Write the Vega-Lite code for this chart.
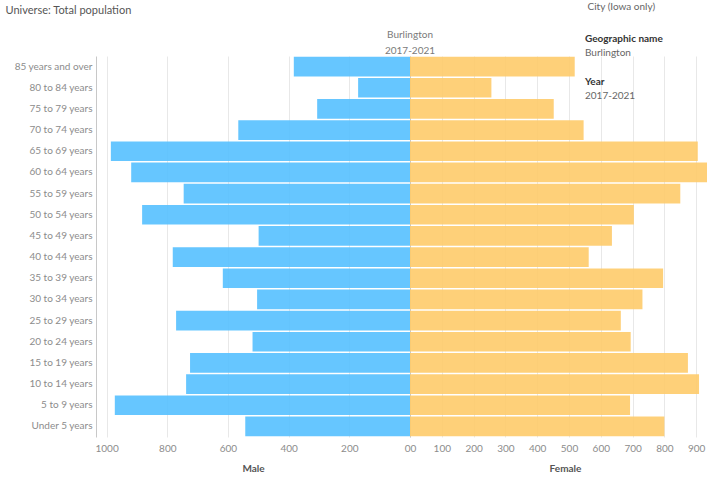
{
  "$schema": "https://vega.github.io/schema/vega-lite/v6.json",
  "padding": {"top": 1, "left": 5, "right": 0, "bottom": 0},
  "bounds": "flush",
  "spacing": 0,
  "config": {
    "font": "Lato",
    "view": {"stroke": null},
    "axis": {
      "labelFont": "Lato", "titleFont": "Lato", "labelFontSize": 10, "labelColor": "#8c8c8c",
      "gridColor": "#e8e8e8", "domainColor": "#c8c8c8", "ticks": false,
      "titleFontSize": 10, "titleColor": "#555555", "titleFontWeight": "bold"
    }
  },
  "datasets": {
    "pop": [
      {"age": "85 years and over", "sex": "Male", "value": 383},
      {"age": "80 to 84 years", "sex": "Male", "value": 171},
      {"age": "75 to 79 years", "sex": "Male", "value": 306},
      {"age": "70 to 74 years", "sex": "Male", "value": 566},
      {"age": "65 to 69 years", "sex": "Male", "value": 986},
      {"age": "60 to 64 years", "sex": "Male", "value": 919},
      {"age": "55 to 59 years", "sex": "Male", "value": 746},
      {"age": "50 to 54 years", "sex": "Male", "value": 883},
      {"age": "45 to 49 years", "sex": "Male", "value": 499},
      {"age": "40 to 44 years", "sex": "Male", "value": 782},
      {"age": "35 to 39 years", "sex": "Male", "value": 617},
      {"age": "30 to 34 years", "sex": "Male", "value": 504},
      {"age": "25 to 29 years", "sex": "Male", "value": 771},
      {"age": "20 to 24 years", "sex": "Male", "value": 519},
      {"age": "15 to 19 years", "sex": "Male", "value": 725},
      {"age": "10 to 14 years", "sex": "Male", "value": 738},
      {"age": "5 to 9 years", "sex": "Male", "value": 973},
      {"age": "Under 5 years", "sex": "Male", "value": 543},
      {"age": "85 years and over", "sex": "Female", "value": 518},
      {"age": "80 to 84 years", "sex": "Female", "value": 256},
      {"age": "75 to 79 years", "sex": "Female", "value": 452},
      {"age": "70 to 74 years", "sex": "Female", "value": 546},
      {"age": "65 to 69 years", "sex": "Female", "value": 905},
      {"age": "60 to 64 years", "sex": "Female", "value": 940},
      {"age": "55 to 59 years", "sex": "Female", "value": 850},
      {"age": "50 to 54 years", "sex": "Female", "value": 704},
      {"age": "45 to 49 years", "sex": "Female", "value": 635},
      {"age": "40 to 44 years", "sex": "Female", "value": 562},
      {"age": "35 to 39 years", "sex": "Female", "value": 796},
      {"age": "30 to 34 years", "sex": "Female", "value": 731},
      {"age": "25 to 29 years", "sex": "Female", "value": 663},
      {"age": "20 to 24 years", "sex": "Female", "value": 694},
      {"age": "15 to 19 years", "sex": "Female", "value": 874},
      {"age": "10 to 14 years", "sex": "Female", "value": 909},
      {"age": "5 to 9 years", "sex": "Female", "value": 692},
      {"age": "Under 5 years", "sex": "Female", "value": 800}
    ]
  },
  "hconcat": [
    {
      "width": 314,
      "height": 381,
      "data": {"name": "pop"},
      "transform": [{"filter": "datum.sex === 'Male'"}],
      "title": {
        "text": ["Burlington", "2017-2021"], "anchor": "end", "align": "center",
        "fontSize": 10, "fontWeight": "normal", "color": "#7a7a7a", "lineHeight": 16, "offset": -52
      },
      "mark": {"type": "bar", "color": "#55C0FF", "opacity": 0.9},
      "encoding": {
        "y": {
          "field": "age", "type": "nominal",
          "sort": ["85 years and over", "80 to 84 years", "75 to 79 years", "70 to 74 years", "65 to 69 years", "60 to 64 years", "55 to 59 years", "50 to 54 years", "45 to 49 years", "40 to 44 years", "35 to 39 years", "30 to 34 years", "25 to 29 years", "20 to 24 years", "15 to 19 years", "10 to 14 years", "5 to 9 years", "Under 5 years"],
          "scale": {"paddingInner": 0.07, "paddingOuter": 0.035},
          "axis": {
            "title": "Universe: Total population", "titleAngle": 0, "titleAlign": "left", "titleBaseline": "middle",
            "titleX": -91, "titleY": -46, "titleFontWeight": "normal", "titleColor": "#555555", "titleFontSize": 11,
            "labelPadding": 4, "labelColor": "#8c8c8c", "labelFontSize": 10, "domain": true, "grid": false
          }
        },
        "x": {
          "field": "value", "type": "quantitative",
          "scale": {"domain": [0, 1035], "reverse": true, "nice": false},
          "axis": {
            "values": [0, 200, 400, 600, 800, 1000], "format": "d", "title": "Male", "grid": true, "domain": false,
            "labelAlign": {"condition": {"test": "datum.value === 0", "value": "right"}, "value": "center"},
            "labelPadding": 6, "titlePadding": 10, "labelFlush": false
          }
        }
      }
    },
    {
      "width": 297,
      "height": 381,
      "data": {"name": "pop"},
      "transform": [{"filter": "datum.sex === 'Female'"}],
      "title": {
        "text": ["Geographic name", "Year"], "subtitle": ["Burlington", "2017-2021"],
        "anchor": "start", "dx": 175, "fontSize": 10, "fontWeight": "bold", "color": "#333333", "lineHeight": 43,
        "subtitleFontSize": 10, "subtitleColor": "#666666", "subtitleLineHeight": 43, "subtitlePadding": -39,
        "offset": -100
      },
      "mark": {"type": "bar", "color": "#FECB6A", "opacity": 0.9, "clip": true},
      "encoding": {
        "y": {
          "field": "age", "type": "nominal",
          "sort": ["85 years and over", "80 to 84 years", "75 to 79 years", "70 to 74 years", "65 to 69 years", "60 to 64 years", "55 to 59 years", "50 to 54 years", "45 to 49 years", "40 to 44 years", "35 to 39 years", "30 to 34 years", "25 to 29 years", "20 to 24 years", "15 to 19 years", "10 to 14 years", "5 to 9 years", "Under 5 years"],
          "scale": {"paddingInner": 0.07, "paddingOuter": 0.035},
          "axis": {
            "labels": false, "grid": false, "domain": true,
            "title": "City (Iowa only)", "titleAngle": 0, "titleAlign": "left", "titleBaseline": "middle",
            "titleX": 177, "titleY": -50, "titleFontWeight": "normal", "titleColor": "#666666", "titleFontSize": 10
          }
        },
        "x": {
          "field": "value", "type": "quantitative",
          "scale": {"domain": [0, 934], "nice": false},
          "axis": {
            "values": [0, 100, 200, 300, 400, 500, 600, 700, 800, 900], "format": "d", "title": "Female", "titleX": 155,
            "grid": true, "domain": false,
            "labelAlign": {"condition": {"test": "datum.value === 0", "value": "left"}, "value": "center"},
            "labelPadding": 6, "titlePadding": 10, "labelFlush": false
          }
        }
      }
    }
  ]
}
